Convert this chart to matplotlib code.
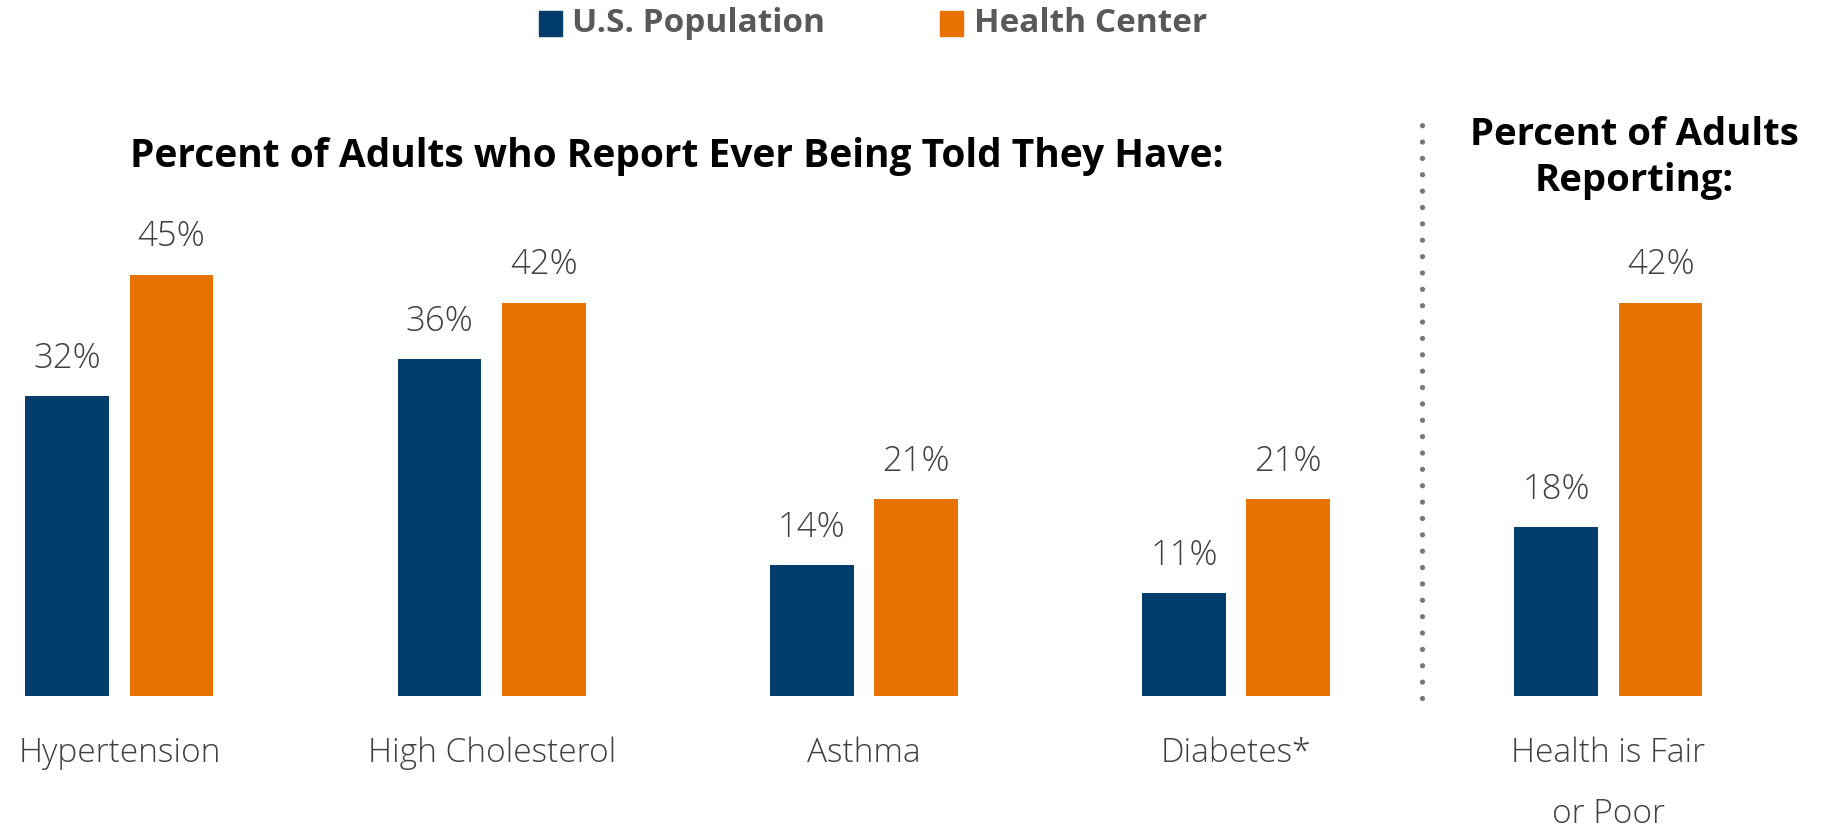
import matplotlib.pyplot as plt
from matplotlib.patches import Rectangle

categories = ["Hypertension", "High Cholesterol", "Asthma", "Diabetes*", "Health is Fair\nor Poor"]
us_population = [32, 36, 14, 11, 18]
health_center = [45, 42, 21, 21, 42]
series_names = ["U.S. Population", "Health Center"]

BLUE = "#023d6b"
ORANGE = "#e87200"
TEXT = "#404040"

plt.rcParams["font.family"] = ["Open Sans", "DejaVu Sans"]

W, H = 1824, 830
fig = plt.figure(figsize=(W / 100, H / 100), dpi=100)
fig.patch.set_facecolor("white")

base_px = 696          # baseline from top, pixels
px_per_pct = 9.365
ax_bottom = 1 - base_px / H
ax = fig.add_axes([0, ax_bottom, 1, 1 - ax_bottom])
ax.set_xlim(-0.321, 4.579)
ax.set_ylim(0, base_px / px_per_pct)
ax.axis("off")

x = list(range(len(categories)))
width = 0.225
off = 0.14
ax.bar([i - off for i in x], us_population, width, color=BLUE)
ax.bar([i + off for i in x], health_center, width, color=ORANGE)

for i in x:
    ax.text(i - off, us_population[i] + 4.0, f"{us_population[i]}%", ha="center", va="center",
            fontsize=25, color=TEXT, fontweight="light")
    ax.text(i + off, health_center[i] + 4.0, f"{health_center[i]}%", ha="center", va="center",
            fontsize=25, color=TEXT, fontweight="light")
    ax.text(i, -4.3, categories[i], ha="center", va="top", fontsize=24, color=TEXT,
            linespacing=2.08, clip_on=False, fontweight="light")

# dotted separator
ax.plot([3.5, 3.5], [-0.2, 62.3], color="#777777", linewidth=3.8,
        linestyle=(0, (0.001, 3.1)), dash_capstyle="round", clip_on=False)

# section headings
fig.text(677 / W, 1 - 157 / H, "Percent of Adults who Report Ever Being Told They Have:",
         ha="center", va="center", fontsize=28, fontweight="bold", color="black")
fig.text(1634 / W, 1 - 158 / H, "Percent of Adults\nReporting:",
         ha="center", va="center", fontsize=27.5, fontweight="bold", color="black", linespacing=1.3)

# legend
for sx, tx, col, name in [(539, 572, BLUE, series_names[0]), (940, 974, ORANGE, series_names[1])]:
    fig.patches.append(Rectangle((sx / W, 1 - 36 / H), 23 / W, 25 / H, color=col,
                                 transform=fig.transFigure, figure=fig))
    fig.text(tx / W, 1 - 24 / H, name, ha="left", va="center", fontsize=24,
             fontweight="bold", color="#595959")

fig.savefig("out.png", dpi=100)
